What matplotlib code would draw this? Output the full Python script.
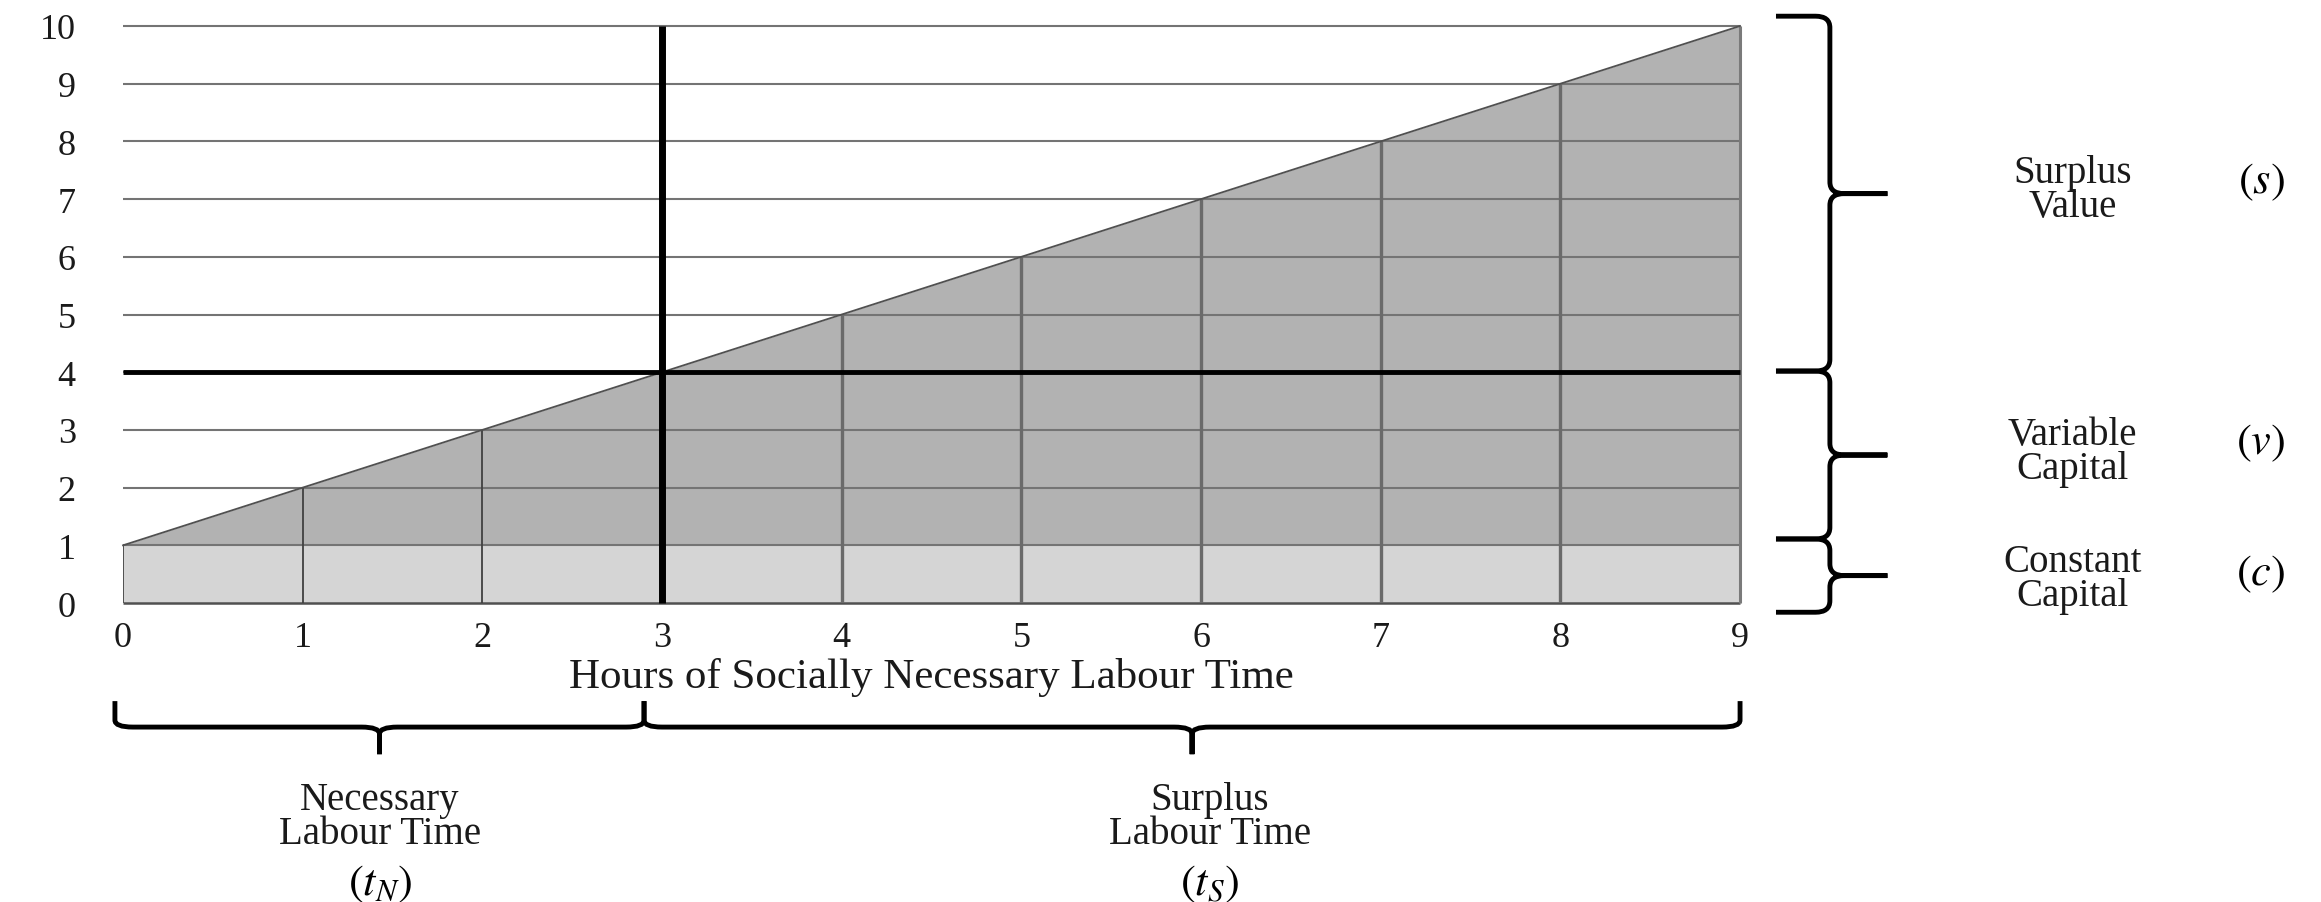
import matplotlib.pyplot as plt
from matplotlib.path import Path
from matplotlib.patches import PathPatch

plt.rcParams['font.family'] = ['Liberation Serif', 'DejaVu Serif']
plt.rcParams['mathtext.fontset'] = 'stix'

# data
hours = [0, 1, 2, 3, 4, 5, 6, 7, 8, 9]
value = [1, 2, 3, 4, 5, 6, 7, 8, 9, 10]
value_ticks = [0, 1, 2, 3, 4, 5, 6, 7, 8, 9, 10]
constant_capital = 1
necessary_hours = 3
variable_top = 4

right_spans = [(4.02, 10.17), (1.11, 4.02), (-0.16, 1.11)]
right_labels = ['Surplus\nValue', 'Variable\nCapital', 'Constant\nCapital']
right_symbols = ['$(s)$', '$(v)$', '$(c)$']
bottom_spans = [(-0.045, 2.9), (2.9, 9.0)]
bottom_labels = ['Necessary\nLabour Time', 'Surplus\nLabour Time']
bottom_symbols = ['$(t_N)$', '$(t_S)$']

LIGHT = '#d5d5d5'
DARK = '#b2b2b2'
TEXT = '#1a1a1a'


def right_brace(ax, y0, y1, xa=9.2, xs=9.5, xt=9.82, dx=0.08):
    ym = (y0 + y1) / 2
    ry = min(0.2, (y1 - y0) / 5)
    verts = [(xa, y1), (xs - dx, y1), (xs, y1), (xs, y1 - ry),
             (xs, ym + ry), (xs, ym), (xs + dx, ym), (xt, ym),
             (xs + dx, ym), (xs, ym), (xs, ym - ry),
             (xs, y0 + ry), (xs, y0), (xs - dx, y0), (xa, y0)]
    codes = [Path.MOVETO, Path.LINETO, Path.CURVE3, Path.CURVE3,
             Path.LINETO, Path.CURVE3, Path.CURVE3, Path.LINETO,
             Path.LINETO, Path.CURVE3, Path.CURVE3,
             Path.LINETO, Path.CURVE3, Path.CURVE3, Path.LINETO]
    ax.add_patch(PathPatch(Path(verts, codes), fill=False, lw=3.5,
                           color='black', clip_on=False, capstyle='butt'))


def bottom_brace(ax, x0, x1, ya=-1.7, ys=-2.15, yt=-2.62, dy=0.12):
    xm = (x0 + x1) / 2
    rx = min(0.1, (x1 - x0) / 6)
    verts = [(x0, ya), (x0, ys + dy), (x0, ys), (x0 + rx, ys),
             (xm - rx, ys), (xm, ys), (xm, ys - dy), (xm, yt),
             (xm, ys - dy), (xm, ys), (xm + rx, ys),
             (x1 - rx, ys), (x1, ys), (x1, ys + dy), (x1, ya)]
    codes = [Path.MOVETO, Path.LINETO, Path.CURVE3, Path.CURVE3,
             Path.LINETO, Path.CURVE3, Path.CURVE3, Path.LINETO,
             Path.LINETO, Path.CURVE3, Path.CURVE3,
             Path.LINETO, Path.CURVE3, Path.CURVE3, Path.LINETO]
    ax.add_patch(PathPatch(Path(verts, codes), fill=False, lw=3.5,
                           color='black', clip_on=False, capstyle='butt'))


fig = plt.figure(figsize=(23.21, 9.03), dpi=100)
ax = fig.add_axes([0.0530, 0.3311, 0.6967, 0.639])
ax.set_xlim(0, 9)
ax.set_ylim(0, 10)

# shaded areas
ax.fill_between(hours, 0, constant_capital, color=LIGHT, lw=0, zorder=1)
ax.fill_between(hours, constant_capital, value, color=DARK, lw=0, zorder=1)

# grid lines
ax.hlines(value_ticks[1:], 0, 9, color='#747474', lw=1.5, zorder=2, clip_on=False)
ax.hlines(0, 0, 9, color='#505050', lw=1.8, zorder=2, clip_on=False)
ax.vlines([0], 0, constant_capital, color='#505050', lw=1.4, zorder=2)
ax.vlines(hours[1:3], 0, value[1:3], color='#404040', lw=1.3, zorder=2)
ax.vlines(hours[4:9], 0, value[4:9], color='#6a6a6a', lw=2.4, zorder=2)
ax.vlines([9], 0, 10, color='#7a7a7a', lw=2.2, zorder=2, clip_on=False)
ax.plot(hours, value, color='#505050', lw=1.3, zorder=3, clip_on=False)

# thick separators
ax.vlines(necessary_hours, 0, 10, color='black', lw=5, zorder=4, clip_on=False)
ax.hlines(variable_top, 0, 9, color='black', lw=3.5, zorder=4, clip_on=False)

for s in ax.spines.values():
    s.set_visible(False)
ax.set_xticks(hours)
ax.set_yticks(value_ticks)
ax.tick_params(length=0, labelsize=26, labelcolor=TEXT)
ax.tick_params(axis='y', pad=34)
ax.tick_params(axis='x', pad=13)
ax.set_xlabel('Hours of Socially Necessary Labour Time', fontsize=31, color=TEXT)
ax.xaxis.set_label_coords(0.5, -0.128)
ax.xaxis.label.set_verticalalignment('center')

# braces on the right
label_y = [7.17, 2.63, 0.42]
sym_y = [7.3, 2.78, 0.52]
for (y0, y1), lab, sym, ly, sy in zip(right_spans, right_labels, right_symbols, label_y, sym_y):
    right_brace(ax, y0, y1)
    ax.text(10.85, ly, lab, fontsize=28, ha='center', va='center',
            linespacing=0.88, color=TEXT, clip_on=False)
    ax.text(11.9, sy, sym, fontsize=32, ha='center', va='center', clip_on=False)

# braces below
label_x = [1.43, 6.05]
for (x0, x1), lab, sym, lx in zip(bottom_spans, bottom_labels, bottom_symbols, label_x):
    bottom_brace(ax, x0, x1)
    ax.text(lx, -3.7, lab, fontsize=28, ha='center', va='center',
            linespacing=0.88, color=TEXT, clip_on=False)
    ax.text(lx, -4.85, sym, fontsize=32, ha='center', va='center', clip_on=False)

fig.savefig('out.png', dpi=100)
